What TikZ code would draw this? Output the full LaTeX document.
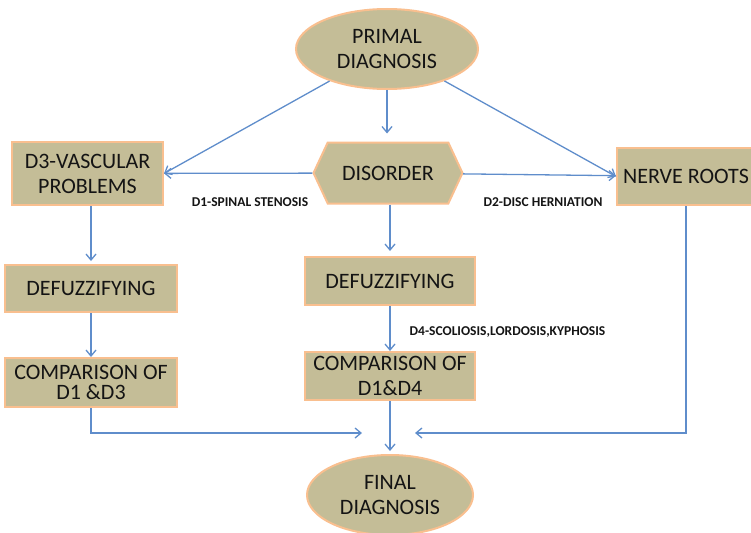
\documentclass[tikz,border=0pt]{standalone}
\usepackage{fontspec}
\setmainfont{Carlito}
\usetikzlibrary{shapes.geometric,shapes.symbols,arrows.meta}
\definecolor{tan}{HTML}{C4BD97}
\definecolor{rim}{HTML}{F9BF8F}
\definecolor{linkblue}{HTML}{5F8DCB}

\begin{document}
\begin{tikzpicture}[x=1pt,y=-1pt,
   every node/.style={text=black!92,align=center,font=\fontsize{22}{25}\selectfont},
   block/.style={draw=rim,fill=tan,line width=2pt,inner sep=0pt},
   box/.style={block,rectangle},
   oval/.style={block,ellipse},
   hexa/.style={block,signal,signal to=west and east,signal pointer angle=130},
   tag/.style={font=\fontsize{13.5}{15}\selectfont\bfseries},
   link/.style={draw=linkblue,line width=1.3pt,-{Straight Barb[length=6pt,width=10pt]}}]
\useasboundingbox (0,0) rectangle (751,532);

\node[oval,minimum width=182pt,minimum height=80pt] (primal) at (387,49) {PRIMAL\\DIAGNOSIS};
\node[hexa,minimum width=149pt,minimum height=61pt] (disorder) at (388,173) {DISORDER};
\node[box,minimum width=151pt,minimum height=63pt] (vascular) at (87.5,173.5) {D3-VASCULAR\\PROBLEMS};
\node[box,minimum width=138pt,minimum height=57pt] (nerve) at (686,176.5) {NERVE ROOTS};
\node[box,minimum width=172pt,minimum height=47pt] (defuzzl) at (91,288.5) {DEFUZZIFYING};
\node[box,minimum width=172pt,minimum height=49pt] (compl) at (91,382.5) {COMPARISON OF\\[-5pt]D1 \&D3};
\node[box,minimum width=170pt,minimum height=48pt] (defuzzc) at (390,281) {DEFUZZIFYING};
\node[box,minimum width=170pt,minimum height=48pt] (compc) at (390,376) {COMPARISON OF\\D1\&D4};
\node[oval,minimum width=166pt,minimum height=80pt] (final) at (390,495) {FINAL\\DIAGNOSIS};

\node[tag] (d1) at (250,202) {D1-SPINAL STENOSIS};
\node[tag] (d2) at (543,202) {D2-DISC HERNIATION};
\node[tag] (d4) at (507.5,331.5) {D4-SCOLIOSIS,LORDOSIS,KYPHOSIS};

\coordinate (inl) at (362,433);
\coordinate (inr) at (415,433);

\draw[link] (primal) -- (vascular.east);
\draw[link,shorten >=8pt] (primal) -- (primal |- disorder.north);
\draw[link] (primal) -- (nerve.west);
\draw[link] (disorder) -- (vascular);
\draw[link] (disorder) -- (nerve);
\draw[link,shorten >=5pt] (disorder.south -| defuzzc) -- (defuzzc);
\draw[link,shorten >=3pt] (vascular.south -| defuzzl) -- (defuzzl);
\draw[link] (defuzzl) -- (compl);
\draw[link] (defuzzc) -- (compc);
\draw[link,shorten >=3pt] (compc) -- (final);
\draw[link] (compl) |- (inl);
\draw[link] (nerve) |- (inr);
\end{tikzpicture}
\end{document}
